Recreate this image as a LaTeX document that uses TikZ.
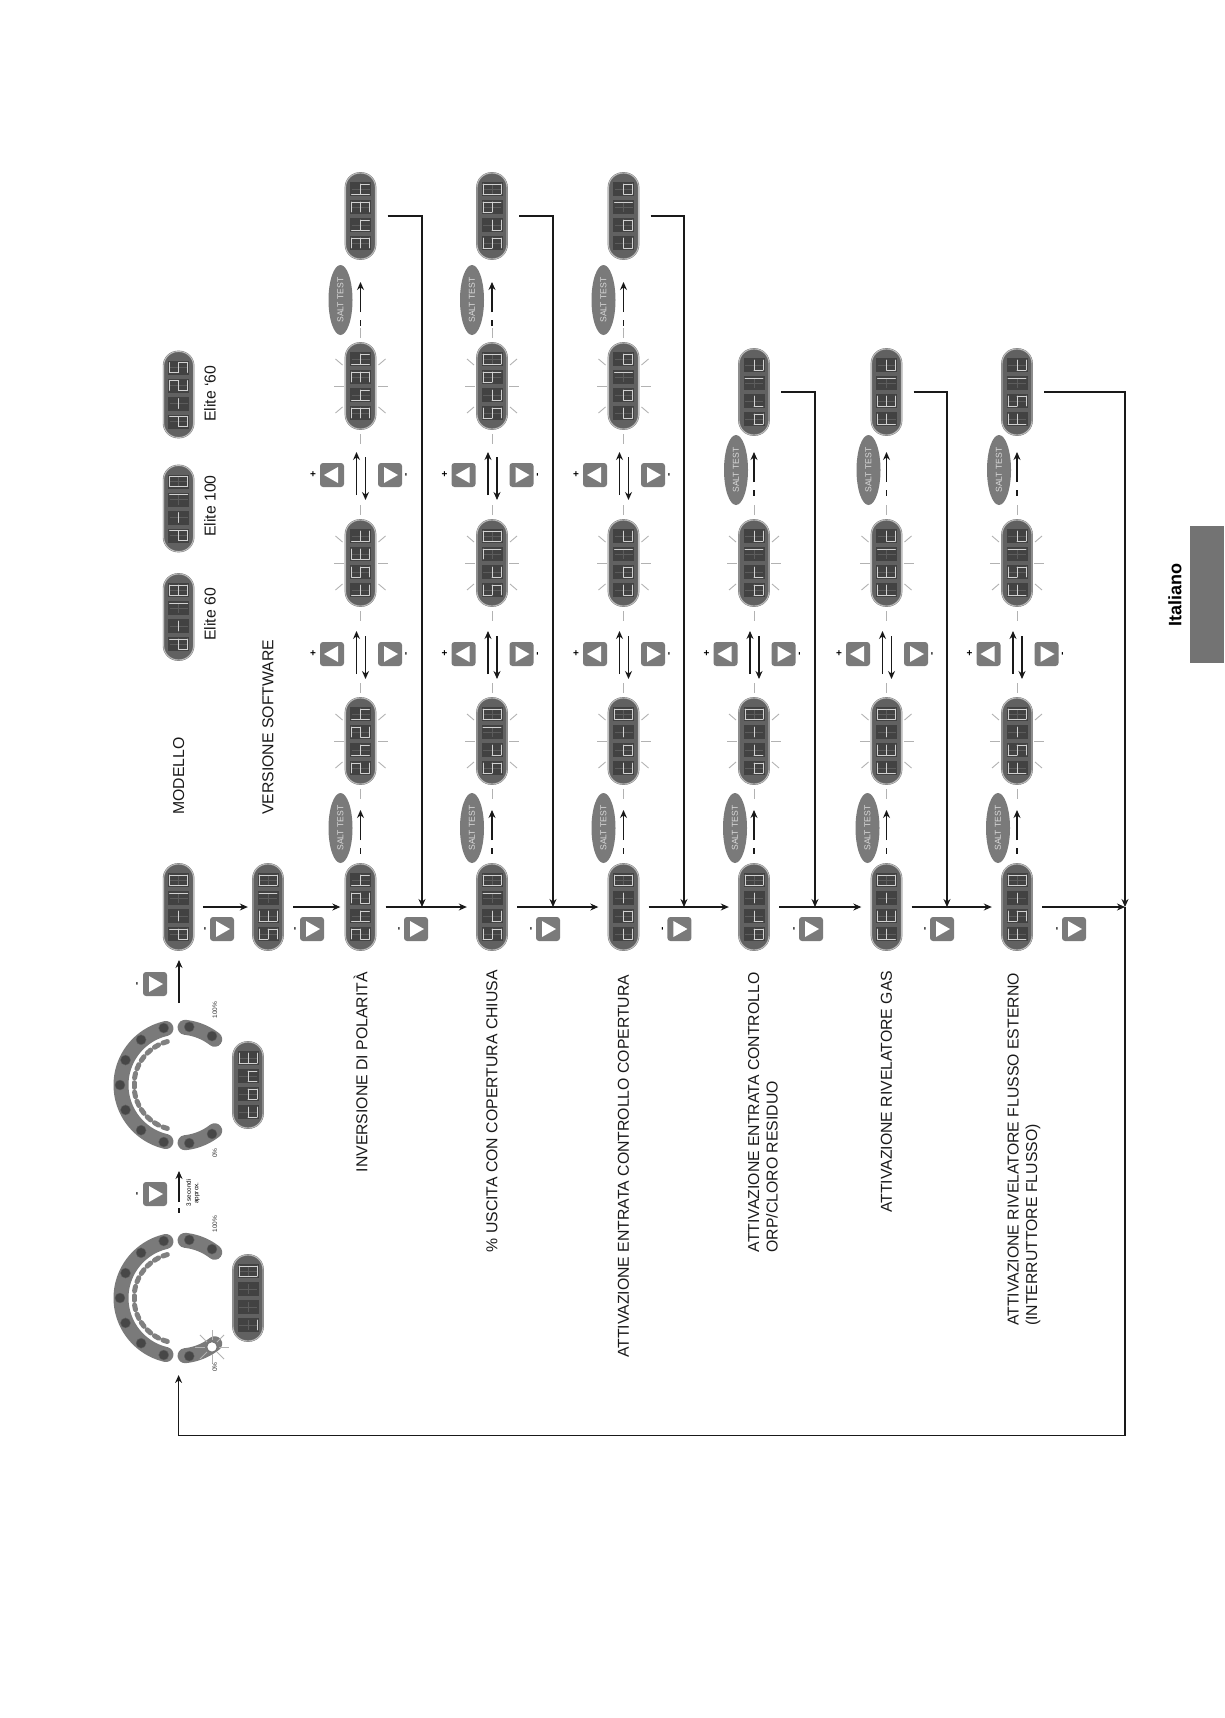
\documentclass[tikz,border=0pt]{standalone}
\usepackage{fontspec}
\setmainfont{Liberation Sans}
\usepackage{xcolor}
\usepackage{tikz}
\usetikzlibrary{
  arrows.meta,
  shapes.geometric,
  positioning,
  calc
}

\tikzset{
  disppill/.style={draw=black!55, double=black!25, double distance=0.9pt, fill=black!62,
    minimum width=30pt, minimum height=86pt, rounded corners=14.5pt, inner sep=0pt},
  digitcell/.style={fill=black!74},
  deadseg/.style={draw=black!64, line width=0.7pt},
  litseg/.style={draw=white!82!black, line width=0.85pt, line cap=round},
  ray/.style={draw=black!30, line width=0.9pt},
  keybtn/.style={fill=black!52, minimum width=24pt, minimum height=24pt, rounded corners=3pt, inner sep=0pt},
  keysign/.style={font=\fontsize{10}{10}\selectfont\bfseries, inner sep=0pt},
  salt/.style={ellipse, fill=black!52, text=white!85!black, minimum width=70pt, minimum height=24pt,
    inner sep=0pt, rotate=90, font=\fontsize{8.6}{9}\selectfont},
  flow/.style={draw=black!90, line width=1.1pt, -{Stealth[length=8pt,width=7pt]}},
  plain/.style={draw=black!90, line width=1.1pt},
  rowlabel/.style={rotate=90, anchor=west, align=left, inner sep=0pt, text=black!90,
    font=\fontsize{15.8}{18.5}\selectfont},
  pct/.style={rotate=90, inner sep=0pt, text=black!80, font=\fontsize{6.5}{7}\selectfont}
}

% segments of one digit, turned a quarter to the left
\newcommand{\sega}{\draw[litseg] (\digx-9,\digy+5) -- (\digx-9,\digy-5);}
\newcommand{\segb}{\draw[litseg] (\digx-9,\digy-5) -- (\digx,\digy-5);}
\newcommand{\segc}{\draw[litseg] (\digx,\digy-5) -- (\digx+9,\digy-5);}
\newcommand{\segd}{\draw[litseg] (\digx+9,\digy+5) -- (\digx+9,\digy-5);}
\newcommand{\sege}{\draw[litseg] (\digx,\digy+5) -- (\digx+9,\digy+5);}
\newcommand{\segf}{\draw[litseg] (\digx-9,\digy+5) -- (\digx,\digy+5);}
\newcommand{\segg}{\draw[litseg] (\digx,\digy+5) -- (\digx,\digy-5);}
\newcommand{\glyph}[2]{\expandafter\def\csname glyph#1\endcsname{#2}}
\glyph{N}{}
\glyph{m}{\segg}
\glyph{0}{\sega\segb\segc\segd\sege\segf}
\glyph{1}{\segb\segc}
\glyph{2}{\sega\segb\segg\sege\segd}
\glyph{3}{\sega\segb\segg\segc\segd}
\glyph{5}{\sega\segf\segg\segc\segd}
\glyph{8}{\sega\segb\segc\segd\sege\segf\segg}
\glyph{9}{\sega\segb\segc\segf\segg}
\glyph{7}{\sega\segb\segc}
\glyph{d}{\segb\segc\segd\sege\segg}
\glyph{c}{\segg\sege\segd}
\glyph{o}{\segg\segc\segd\sege}
\glyph{r}{\segg\sege}
\glyph{h}{\segf\sege\segg\segc}
\glyph{t}{\segf\sege\segg\segd}
\glyph{E}{\sega\segf\segg\sege\segd}
\glyph{F}{\sega\segf\segg\sege}
\glyph{n}{\segg\segc\sege}
\glyph{u}{\segd}

\newcommand{\digitbox}[3]{%
  \def\digx{#1}\def\digy{#2}%
  \fill[digitcell] (\digx-10.5,\digy-7) rectangle (\digx+10.5,\digy+7);
  \draw[deadseg] (\digx-9,\digy) -- (\digx+9,\digy) (\digx,\digy-5) -- (\digx,\digy+5);
  \csname glyph#3\endcsname
}
% name, x, y, then the digits from the lower one up
\newcommand{\display}[7]{%
  \node[disppill] (#1) at (#2,#3) {};
  \digitbox{#2}{#3+27}{#4}\digitbox{#2}{#3+9}{#5}\digitbox{#2}{#3-9}{#6}\digitbox{#2}{#3-27}{#7}
}
\newcommand{\flashrays}[1]{%
  \draw[ray] ([shift={(-17,0)}]#1.center) -- ([shift={(-27,0)}]#1.center);
  \draw[ray] ([shift={(17,0)}]#1.center) -- ([shift={(27,0)}]#1.center);
  \draw[ray] ([shift={(0,-48)}]#1.center) -- ([shift={(0,-58)}]#1.center);
  \draw[ray] ([shift={(0,48)}]#1.center) -- ([shift={(0,58)}]#1.center);
  \foreach \sx in {-1,1} \foreach \sy in {-1,1}
    \draw[ray] ([shift={(18*\sx,21*\sy)}]#1.center) -- ([shift={(25*\sx,27*\sy)}]#1.center);
}
% name, x, y, direction of the triangle
\newcommand{\keytri}[4]{%
  \node[keybtn] (#1) at (#2,#3) {};
  \fill[white] (#2-6*#4,#3-8) -- (#2+8*#4,#3) -- (#2-6*#4,#3+8) -- cycle;
}
% the two keys and two arrows between two flashing displays
\newcommand{\keypair}[3]{%
  \keytri{#1l}{#2-28.5}{#3}{-1}
  \keytri{#1r}{#2+29.5}{#3}{1}
  \node[keysign] (#1p) at (#2-47.5,#3) {+};
  \node[keysign, rotate=90] (#1q) at (#2+46.5,#3) {-};
  \coordinate (#1a) at (#2-4,#3+20);
  \coordinate (#1b) at (#2-4,#3-23);
  \coordinate (#1c) at (#2+5,#3-18);
  \coordinate (#1d) at (#2+5,#3+25);
  \draw[flow] (#1a) -- (#1b);
  \draw[flow] (#1c) -- (#1d);
}
% the oval and its arrow, above a display: name, x, y, oval offset
\newcommand{\saltkey}[4]{%
  \node[salt] (#1) at (#2-#4,#3) {SALT TEST};
  \coordinate (#1a) at (#2,#3+12);
  \coordinate (#1b) at (#2,#3-18);
  \coordinate (#1c) at (#2,#3+20);
  \coordinate (#1d) at (#2,#3+26);
  \draw[flow] (#1a) -- (#1b);
  \draw[plain] (#1c) -- (#1d);
}
% control ring, centred on y
\newcommand{\ringband}[1]{%
  \draw[black!52, line width=15pt, line cap=round] plot[smooth, domain=103:257, samples=30] ({179+58*cos(\x)},{#1+58*sin(\x)});
  \draw[black!52, line width=15pt, line cap=round] plot[smooth, domain=52:84, samples=8] ({179+58*cos(\x)},{#1+58*sin(\x)});
  \draw[black!52, line width=15pt, line cap=round] plot[smooth, domain=-84:-52, samples=8] ({179+58*cos(\x)},{#1+58*sin(\x)});
  \foreach \a in {108,120,...,252}
    \draw[black!50, line width=5pt, line cap=round] ({179+45*cos(\a-3)},{#1+45*sin(\a-3)}) -- ({179+45*cos(\a+3)},{#1+45*sin(\a+3)});
  \foreach \a in {105,130,155,180,205,230,255,-80,-56,80,56}
    \filldraw[fill=black!72, draw=black!62] ({179+59*cos(\a)},{#1+59*sin(\a)}) circle (5pt);
}

\begin{document}
\begin{tikzpicture}[x=1pt, y=-1pt]
  \useasboundingbox (0,0) rectangle (1224,1718);
  \fill[black!55] (1190,526) rectangle (1224,663);
  \node[rotate=90, inner sep=0pt, font=\fontsize{18}{18}\selectfont\bfseries] (lang) at (1175,595) {Italiano};

  % the two rings and their displays
  \ringband{1298}
  \ringband{1085}
  \filldraw[fill=white, draw=black!60] ({179+59*cos(56)},{1298+59*sin(56)}) circle (5pt);
  \foreach \a in {0,45,...,315}
    \draw[ray] ({212+7*cos(\a)},{1347+7*sin(\a)}) -- ({212+17*cos(\a)},{1347+17*sin(\a)});
  \display{ringa}{248}{1298}{u}{N}{N}{0}
  \display{ringb}{248}{1085}{c}{o}{n}{E}
  \node[pct] (pa) at (215,1367) {0\%};
  \node[pct] (pb) at (215,1224) {100\%};
  \node[pct] (pc) at (215,1153) {0\%};
  \node[pct] (pd) at (215,1010) {100\%};
  \node[rotate=90, align=center, inner sep=0pt, font=\fontsize{6.3}{7.5}\selectfont] (tsec) at (193,1193) {3 secondi\\approx.};
  \coordinate (ta) at (179,1202);
  \coordinate (tb) at (179,1171);
  \draw[flow] (ta) -- (tb);
  \coordinate (tc) at (179,1208);
  \coordinate (td) at (179,1213);
  \draw[plain] (tc) -- (td);
  \keytri{ka}{155}{1194}{1}
  \keytri{kb}{155}{984}{1}
  \node[keysign, rotate=90] (ksa) at (138,1194) {-};
  \node[keysign, rotate=90] (ksb) at (138,984) {-};
  \coordinate (ra) at (179,1003);
  \coordinate (rb) at (179,960);
  \draw[flow] (ra) -- (rb);

  % model and software
  \display{elsix}{178.6}{617}{d}{m}{1}{8}
  \display{elhun}{178.6}{508.5}{d}{m}{1}{0}
  \display{elsec}{178.6}{394.5}{d}{m}{2}{5}
  \node[rowlabel] (lsix) at (210,641) {Elite 60};
  \node[rowlabel] (lhun) at (210,537) {Elite 100};
  \node[rowlabel] (lsec) at (210,422) {Elite `60};
  \node[rowlabel] (lmod) at (178.6,815) {MODELLO};
  \node[rowlabel] (lver) at (268,815) {VERSIONE SOFTWARE};

  % column of the functions
  \display{cha}{178.6}{907}{d}{m}{1}{0}
  \display{chb}{268}{907}{5}{E}{1}{0}
  \display{chc}{360.5}{907}{2}{h}{2}{h}
  \display{chd}{492}{907}{5}{c}{1}{0}
  \display{che}{623.5}{907}{c}{o}{m}{0}
  \display{chf}{754}{907}{o}{r}{m}{0}
  \display{chg}{886.5}{907}{F}{E}{m}{0}
  \display{chh}{1017}{907}{F}{5}{m}{0}
  \node[rowlabel] (lpol) at (360.5,1172.5) {INVERSIONE DI POLARITÀ};
  \node[rowlabel] (lusc) at (492,1252.5) {\% USCITA CON COPERTURA CHIUSA};
  \node[rowlabel] (lcop) at (623.5,1358) {ATTIVAZIONE ENTRATA CONTROLLO COPERTURA};
  \node[rowlabel] (lorp) at (763,1252.5) {ATTIVAZIONE ENTRATA CONTROLLO\\ORP/CLORO RESIDUO};
  \node[rowlabel] (lgas) at (886.5,1213) {ATTIVAZIONE RIVELATORE GAS};
  \node[rowlabel] (lflu) at (1024,1326) {ATTIVAZIONE RIVELATORE FLUSSO ESTERNO\\(INTERRUTTORE FLUSSO)};

  % Rows with four displays
  \display{faa}{360.5}{741}{2}{h}{2}{h}
  \display{fab}{360.5}{563}{t}{5}{E}{t}
  \display{fac}{360.5}{386}{3}{h}{3}{h}
  \display{fad}{360.5}{216}{3}{h}{3}{h}
  \display{fba}{492}{741}{5}{c}{1}{0}
  \display{fbb}{492}{563}{5}{c}{7}{0}
  \display{fbc}{492}{386}{5}{c}{9}{0}
  \display{fbd}{492}{216}{5}{c}{9}{0}
  \display{fca}{623.5}{741}{c}{o}{m}{0}
  \display{fcb}{623.5}{563}{c}{o}{1}{c}
  \display{fcc}{623.5}{386}{c}{o}{1}{o}
  \display{fcd}{623.5}{216}{c}{o}{1}{o}
  \foreach \rw/\cw in {a/360.5,b/492,c/623.5} {
    \flashrays{f\rw a}
    \flashrays{f\rw b}
    \flashrays{f\rw c}
    \keypair{kp\rw a}{\cw}{654}
    \keypair{kp\rw b}{\cw}{475}
    \saltkey{sl\rw a}{\cw}{828}{20}
    \saltkey{sl\rw b}{\cw}{300}{20}
  }
  % Rows with three displays
  \display{fda}{754}{741}{o}{r}{m}{0}
  \display{fdb}{754}{563}{o}{r}{1}{c}
  \display{fdc}{754}{392}{o}{r}{1}{c}
  \display{fea}{886.5}{741}{F}{E}{m}{0}
  \display{feb}{886.5}{563}{F}{E}{1}{c}
  \display{fec}{886.5}{392}{F}{E}{1}{c}
  \display{ffa}{1017}{741}{F}{5}{m}{0}
  \display{ffb}{1017}{563}{F}{5}{1}{c}
  \display{ffc}{1017}{392}{F}{5}{1}{c}
  \foreach \rw/\cw in {d/754,e/886.5,f/1017} {
    \flashrays{f\rw a}
    \flashrays{f\rw b}
    \keypair{kp\rw a}{\cw}{654}
    \saltkey{sl\rw a}{\cw}{828}{19}
    \saltkey{sl\rw b}{\cw}{470}{18}
  }

  % Play keys under the column
  \foreach \nk/\cw in {a/222,b/312,c/416,d/548,e/679.4,f/811,g/942,h/1074} {
    \keytri{pl\nk}{\cw}{929}{1}
    \node[keysign, rotate=90] (pm\nk) at (\cw-16,929) {-};
  }

  % column arrows and returns
  \coordinate (ja) at (422,907);
  \coordinate (jb) at (553,907);
  \coordinate (jc) at (684,907);
  \coordinate (jd) at (815,907);
  \coordinate (je) at (947,907);
  \coordinate (jf) at (1125,907);
  \coordinate (loopc) at (178.6,1435.5);
  \coordinate (ringin) at (178.6,1375);
  \draw[flow, shorten <=9pt, shorten >=5pt] (cha) -- (chb);
  \draw[flow, shorten <=10pt, shorten >=5pt] (chb) -- (chc);
  \foreach \u/\v in {chc/chd,chd/che,che/chf,chf/chg,chg/chh}
    \draw[flow, shorten <=10pt, shorten >=10pt] (\u) -- (\v);
  \draw[flow, shorten <=10pt] (chh) -- (jf);
  \draw[flow, shorten <=12pt] (fad) -| (ja);
  \draw[flow, shorten <=12pt] (fbd) -| (jb);
  \draw[flow, shorten <=12pt] (fcd) -| (jc);
  \draw[flow, shorten <=12pt] (fdc) -| (jd);
  \draw[flow, shorten <=12pt] (fec) -| (je);
  \draw[flow, shorten <=12pt] (ffc) -| (jf);
  \draw[flow] (jf) |- (loopc) -- (ringin);
\end{tikzpicture}
\end{document}
